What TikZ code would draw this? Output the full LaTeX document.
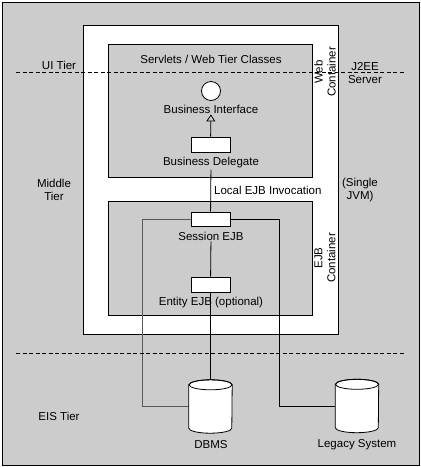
\documentclass[tikz,border=0pt]{standalone}
\usepackage{fontspec}
\setmainfont{Liberation Sans}
\usetikzlibrary{positioning,arrows.meta,calc}
\tikzset{%
  pane/.style = {
    draw = black,
    line width = 0.8pt,
    fill = #1,
    inner sep = 0pt,
  },
  pane/.default = {gray!40},
  cbox/.style = {
    draw = black,
    line width = 0.8pt,
    fill = white,
    minimum width = 39pt,
    minimum height = 15pt,
    inner sep = 0pt,
  },
  db/.style = {
    minimum width = 43pt,
    minimum height = 53pt,
    inner sep = 0pt,
  },
  lbl/.style = {
    align = center,
    font = \fontsize{11.5}{13}\selectfont,
    inner sep = 1pt,
  },
  link/.style = {
    line width = 0.8pt,
    draw = #1,
  },
  link/.default = {black},
  tier/.style = {
    dashed,
    dash pattern = on 4pt off 2.5pt,
    line width = 0.8pt,
  },
}

\begin{document}
\begin{tikzpicture}[x=1pt, y=-1pt]
\useasboundingbox (0,0) rectangle (421,467);
% frames
\node(bg)  [pane, minimum width=417pt, minimum height=463pt] at (210.5,233.5) {};
\node(srv) [pane=white, minimum width=255pt, minimum height=309pt] at (210.5,179.5) {};
\node(web) [pane, minimum width=204pt, minimum height=133pt] at (210,110.5) {};
\node(ejb) [pane, minimum width=204pt, minimum height=114pt] at (210,258) {};

\node(wt) [lbl] at (211,59) {Servlets / Web Tier Classes};
\node(wc) [lbl, rotate=90] at (325,72)  {Web\\Container};
\node(ec) [lbl, rotate=90] at (325,258) {EJB\\Container};

% web tier
\node(bi)  [draw=black, line width=0.8pt, fill=white, circle, minimum size=19pt, inner sep=0pt] at (211,91) {};
\node(bil) [lbl] at (211,109) {Business Interface};
\node(bd)  [cbox] at (210.5,144.5) {};
\node(bdl) [lbl] at (211,163) {Business Delegate};

% ejb tier
\node(se)  [cbox, minimum height=14pt] at (210.5,219) {};
\node(sel) [lbl] at (211,236) {Session EJB};
\node(en)  [cbox] at (210.5,284.5) {};
\node(enl) [lbl] at (211,303) {Entity EJB (optional)};

% eis tier
\node(dbms) [db] at (210.5,406.5) {};
\node(dbl)  [lbl] at (211,445) {DBMS};
\node(leg)  [db] at (357,406) {};
\node(lgl)  [lbl] at (357,445) {Legacy System};

\coordinate(gl) at (142,219);
\coordinate(bl) at (279,219);

\draw[link, -{Triangle[open, length=7pt, width=9pt]}] (bd) -- (bil);
\draw[link] (bdl) -- node[lbl, right=2pt] {Local EJB Invocation} (se);
\draw[link] (sel) -- (en);
\draw[link] (en) -- (dbms);
\draw[link=black!65] (se.west) -- (gl) |- (dbms.west);
\draw[link] (se.east) -- (bl) |- (leg.west);

% cylinders
\foreach \c in {dbms,leg} {
  \draw[link, fill=white] ($(\c.north west)+(0,5)$) -- ($(\c.south west)+(0,-5)$)
    arc[start angle=180, end angle=360, x radius=21.5pt, y radius=5pt]
    -- ($(\c.north east)+(0,5)$)
    arc[start angle=0, end angle=180, x radius=21.5pt, y radius=5pt] -- cycle;
  \draw[link] ($(\c.north)+(0,5)$) ellipse[x radius=21.5pt, y radius=5pt];
}

% tiers
\node(ui)  [lbl] at (59,65)  {UI Tier};
\node(mid) [lbl] at (54,190) {Middle\\Tier};
\node(eis) [lbl] at (59,416) {EIS Tier};
\node(j2)  [lbl] at (365,73) {J2EE\\Server};
\node(jvm) [lbl] at (360,190) {(Single\\JVM)};

\draw[tier] (16,72)  -- (405,72);
\draw[tier] (16,353) -- (405,353);
\end{tikzpicture}
\end{document}
